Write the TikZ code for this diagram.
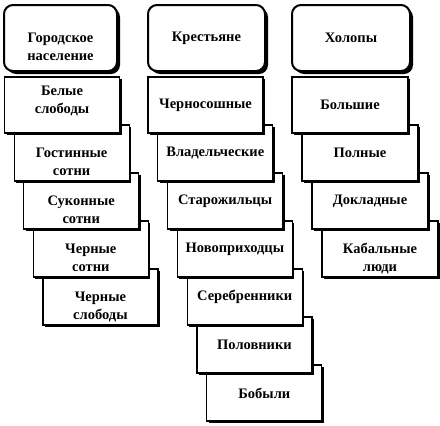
\documentclass[tikz,border=0pt]{standalone}
\usepackage{fontspec}
\setmainfont{Liberation Serif}
\usetikzlibrary{shadows}
\tikzset{
    headbox/.style={draw=black,line width=2pt,fill=white,rounded corners=9pt,
        minimum width=113pt,minimum height=66pt,inner sep=2pt,align=center,
        font=\fontsize{14.5}{18}\selectfont\bfseries,
        drop shadow={shadow xshift=3pt,shadow yshift=-3pt,fill=black,opacity=1}},
    subbox/.style={draw=black,line width=1.2pt,fill=white,
        minimum width=115pt,minimum height=56pt,inner sep=2pt,align=center,
        font=\fontsize{14.5}{18}\selectfont\bfseries,
        drop shadow={shadow xshift=2pt,shadow yshift=-2pt,fill=black,opacity=1}},
    lowtext/.style={text height=48pt,text depth=4pt},
    hightext/.style={text height=28pt,text depth=12pt}
}
\begin{document}
\begin{tikzpicture}[x=1pt,y=-1pt]
    \useasboundingbox (0,0) rectangle (440,426);
    % заголовки трёх столбцов
    \node[headbox,lowtext] (gorod) at (60.5,38) {Городское\\население};
    \node[headbox,minimum width=117pt] (krest) at (206.5,38) {Крестьяне};
    \node[headbox,minimum width=118pt] (kholop) at (351,38) {Холопы};

    % городское население: лесенка снизу вверх
    \node[subbox,lowtext] (g5) at (100.4,297) {Черные\\слободы};
    \node[subbox,lowtext] (g4) at (90.8,249) {Черные\\сотни};
    \node[subbox,lowtext] (g3) at (81.2,201) {Суконные\\сотни};
    \node[subbox,lowtext] (g2) at (71.6,153) {Гостинные\\сотни};
    \node[subbox,hightext] (g1) at (62,105) {Белые\\слободы};

    % крестьяне
    \node[subbox] (k7) at (264.3,393) {Бобыли};
    \node[subbox] (k6) at (254.5,345) {Половники};
    \node[subbox] (k5) at (244.7,297) {Серебренники};
    \node[subbox] (k4) at (234.9,249) {Новоприходцы};
    \node[subbox] (k3) at (225.1,201) {Старожильцы};
    \node[subbox] (k2) at (215.3,153) {Владельческие};
    \node[subbox] (k1) at (205.5,105) {Черносошные};

    % холопы
    \node[subbox,minimum width=116pt,lowtext] (h4) at (380,249) {Кабальные\\люди};
    \node[subbox,minimum width=116pt] (h3) at (370,201) {Докладные};
    \node[subbox,minimum width=116pt] (h2) at (360,153) {Полные};
    \node[subbox,minimum width=116pt] (h1) at (350,105) {Большие};
\end{tikzpicture}
\end{document}
